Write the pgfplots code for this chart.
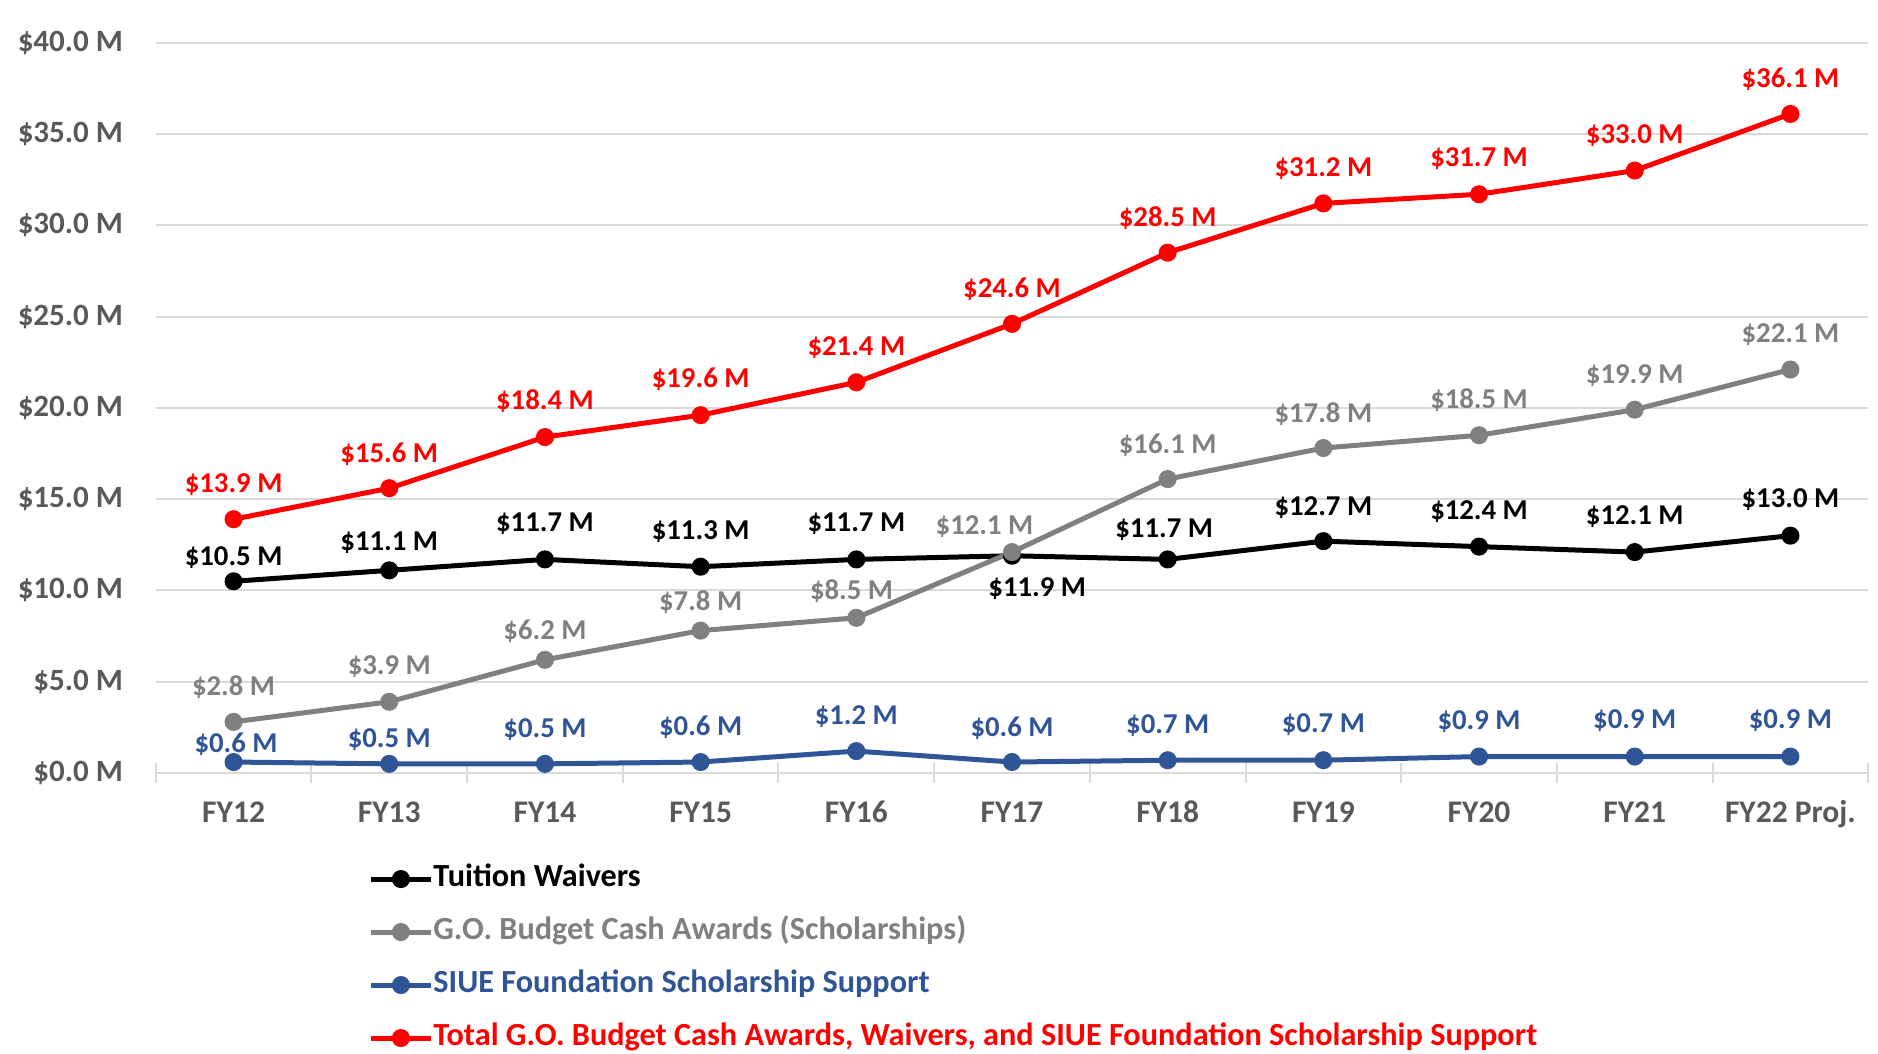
\documentclass[border=0pt]{standalone}
\usepackage{fontspec}
\setmainfont{Carlito}
\usepackage{pgfplots}
\pgfplotsset{compat=1.18}
\usepackage{pgfplotstable}

\definecolor{tw}{HTML}{000000}
\definecolor{go}{HTML}{808080}
\definecolor{siue}{HTML}{2F5597}
\definecolor{tot}{HTML}{FF0000}
\definecolor{gridc}{HTML}{D9D9D9}
\definecolor{ticktxt}{HTML}{595959}

% x = fiscal year index, v = value ($ M), dx/dy = label offset (pt)
\pgfplotstableread{
x v dx dy
0 10.5 0 9.6
1 11.1 0 11.0
2 11.7 0 14.4
3 11.3 0 13.9
4 11.7 0 14.4
5 11.9 10.1 -13.2
6 11.7 -1.4 12.0
7 12.7 0 13.4
8 12.4 0 13.9
9 12.1 0 14.1
10 13.0 0 14.4
}\waivers

\pgfplotstableread{
x v dx dy
0 2.8 0 13.9
1 3.9 0 14.1
2 6.2 0 11.3
3 7.8 0 11.5
4 8.5 -1.9 10.5
5 12.1 -11 10.3
6 16.1 0 13.7
7 17.8 0 13.7
8 18.5 0 13.9
9 19.9 0 13.7
10 22.1 0 13.9
}\goawards

\pgfplotstableread{
x v dx dy
0 0.6 1 7.2
1 0.5 0 9.6
2 0.5 0 13.9
3 0.6 0 13.9
4 1.2 0 13.9
5 0.6 0 13.4
6 0.7 0 13.9
7 0.7 0 14.4
8 0.9 0 13.9
9 0.9 0 14.4
10 0.9 0 14.4
}\siue

\pgfplotstableread{
x v dx dy
0 13.9 0 13.9
1 15.6 0 13.4
2 18.4 0 14.4
3 19.6 0 14.4
4 21.4 0 13.9
5 24.6 0 13.9
6 28.5 0 13.9
7 31.2 0 13.9
8 31.7 0 14.4
9 33.0 0 13.9
10 36.1 0 13.7
}\total

\pgfplotsset{
  series/.style={
    color=#1, line width=2pt, mark=*, mark size=2.6pt,
    mark options={solid},
    visualization depends on={\thisrow{dx} \as \dx},
    visualization depends on={\thisrow{dy} \as \dy},
    nodes near coords={\$\pgfmathprintnumber[fixed,fixed zerofill,precision=1]{\pgfplotspointmeta}~M},
    every node near coord/.append style={
      font=\fontsize{11.5}{13}\selectfont\bfseries, text=#1,
      anchor=center, inner sep=0pt, xshift=\dx, yshift=\dy},
  },
}

\begin{document}
\begin{tikzpicture}
\path[use as bounding box] (-62.3pt,-112.4pt) rectangle (688.9pt,309.2pt);
\begin{axis}[
    at={(0,0)}, anchor=south west,
    scale only axis, width=685pt, height=292.1pt,
    xmin=-0.5, xmax=10.5, ymin=0, ymax=40,
    clip=false,
    axis line style={draw=none},
    ymajorgrids, grid style={draw=gridc, line width=0.8pt},
    ytick={0,5,...,40},
    yticklabel={\$\pgfmathprintnumber[fixed,fixed zerofill,precision=1]{\tick}~M},
    xtick={0,...,10},
    xticklabels={FY12,FY13,FY14,FY15,FY16,FY17,FY18,FY19,FY20,FY21,FY22 Proj.},
    minor xtick={-0.5,0.5,...,10.5},
    xtick pos=left, ytick pos=left,
    major tick length=0pt, minor tick length=8pt, tick align=center,
    minor tick style={draw=gridc, line width=0.8pt},
    /pgf/number format/assume math mode=true,
    every tick label/.append style={text=ticktxt},
    yticklabel style={font=\fontsize{12.4}{14}\selectfont\bfseries, anchor=east, inner sep=0pt, xshift=-12.9pt},
    xticklabel style={font=\fontsize{12.6}{14}\selectfont\bfseries, anchor=base, inner sep=0pt, yshift=-20pt},
    legend cell align=left,
    legend style={
      at={(axis description cs:0.1239,-0.1240)}, anchor=north west,
      draw=none, fill=none, inner sep=0pt,
      row sep=9.2pt, column sep=0pt,
      font=\fontsize{12.9}{15}\selectfont\bfseries,
      nodes={inner sep=0pt, text height=9pt, text depth=3pt},
    },
    legend image code/.code={
      \draw[mark repeat=2, mark phase=2, #1] plot coordinates {(0pt,0pt) (12pt,0pt) (24pt,0pt)};
    },
]
\addplot[series=tw] table[x=x, y=v] {\waivers};
\addlegendentry{\textcolor{tw}{Tuition Waivers}}
\addplot[series=go] table[x=x, y=v] {\goawards};
\addlegendentry{\textcolor{go}{G.O. Budget Cash Awards (Scholarships)}}
\addplot[series=siue] table[x=x, y=v] {\siue};
\addlegendentry{\textcolor{siue}{SIUE Foundation Scholarship Support}}
\addplot[series=tot] table[x=x, y=v] {\total};
\addlegendentry{\textcolor{tot}{Total G.O. Budget Cash Awards, Waivers, and SIUE Foundation Scholarship Support}}
\end{axis}
\end{tikzpicture}
\end{document}
